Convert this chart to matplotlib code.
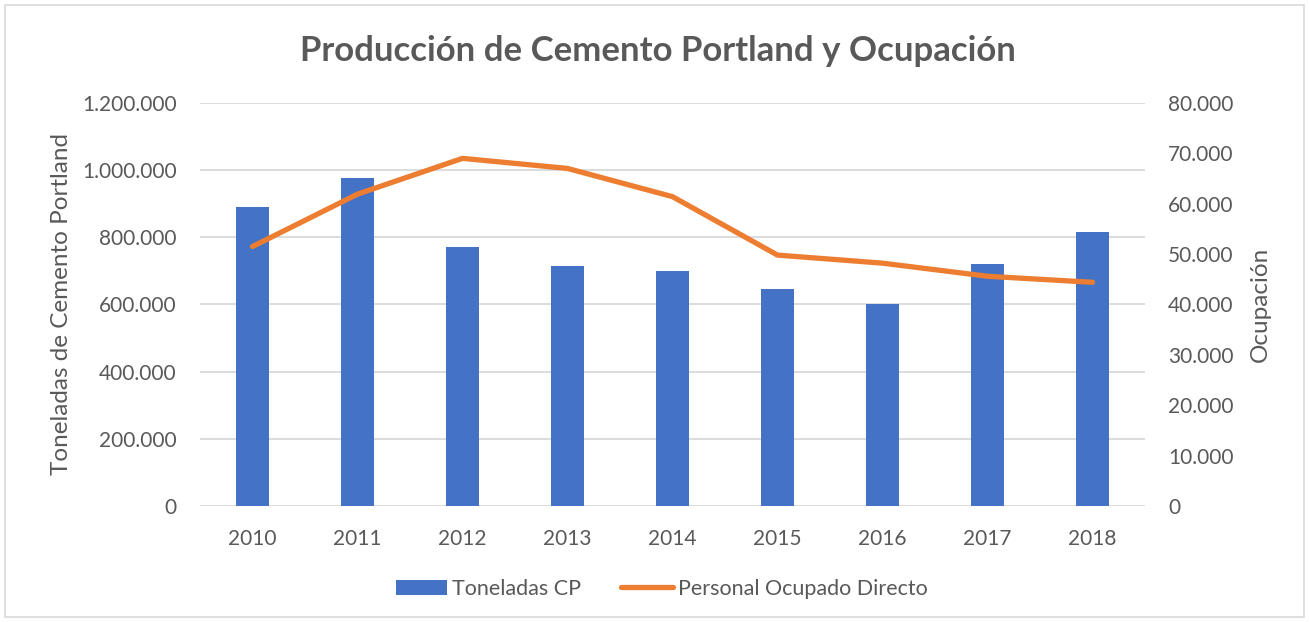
import matplotlib
matplotlib.use('Agg')
import matplotlib.pyplot as plt
from matplotlib.ticker import FuncFormatter
from matplotlib.patches import Rectangle

years = ['2010', '2011', '2012', '2013', '2014', '2015', '2016', '2017', '2018']
toneladas = [891000, 978000, 772000, 716000, 700000, 645000, 600000, 720000, 817000]
ocupados = [51500, 61900, 69000, 67000, 61400, 49800, 48200, 45600, 44400]

plt.rcParams['font.family'] = ['Lato', 'DejaVu Sans']
gray = '#595959'


def miles(v, pos):
    return f'{int(v):,}'.replace(',', '.')


fig = plt.figure(figsize=(13.09, 6.22), dpi=100)
ax = fig.add_axes([0.1528, 0.1865, 0.7219, 0.648])
ax2 = ax.twinx()

x = range(len(years))
ax.bar(x, toneladas, width=0.32, color='#4472c4', label='Toneladas CP', zorder=2)
ax2.plot(x, ocupados, color='#ed7d31', lw=3.8, solid_capstyle='round',
         label='Personal Ocupado Directo', zorder=3)

ax.set_xlim(-0.5, len(years) - 0.5)
ax.set_ylim(0, 1200000)
ax2.set_ylim(0, 80000)
ax.set_yticks(range(0, 1200001, 200000))
ax2.set_yticks(range(0, 80001, 10000))
ax.yaxis.set_major_formatter(FuncFormatter(miles))
ax2.yaxis.set_major_formatter(FuncFormatter(miles))
ax.set_xticks(list(x))
ax.set_xticklabels(years)

ax.grid(axis='y', color='#d9d9d9', lw=1.3, zorder=0)
ax.set_axisbelow(True)
for a in (ax, ax2):
    for s in a.spines.values():
        s.set_visible(False)
    a.tick_params(length=0, labelsize=15, labelcolor=gray)
ax.tick_params(axis='y', pad=17)
ax.tick_params(axis='x', pad=16.5)
ax2.tick_params(axis='y', pad=16.5)

ax.set_ylabel('Toneladas de Cemento Portland', fontsize=17.5, color=gray, labelpad=7)
ax2.set_ylabel('Ocupación', fontsize=17.5, color=gray, labelpad=12)

fig.text(0.503, 0.918, 'Producción de Cemento Portland y Ocupación', ha='center',
         va='center', fontsize=25, fontweight='bold', color=gray)

h1, l1 = ax.get_legend_handles_labels()
h2, l2 = ax2.get_legend_handles_labels()
fig.legend(h1 + h2, l1 + l2, loc='center', bbox_to_anchor=(0.5054, 0.053), ncol=2,
           frameon=False, fontsize=15.5, labelcolor=gray, handlelength=2.4,
           handletextpad=0.23, columnspacing=1.86)

fig.patches.append(Rectangle((0.004, 0.008), 0.992, 0.984, transform=fig.transFigure,
                             fill=False, edgecolor='#d9d9d9', lw=1.2))

fig.savefig('out.png', dpi=100)
